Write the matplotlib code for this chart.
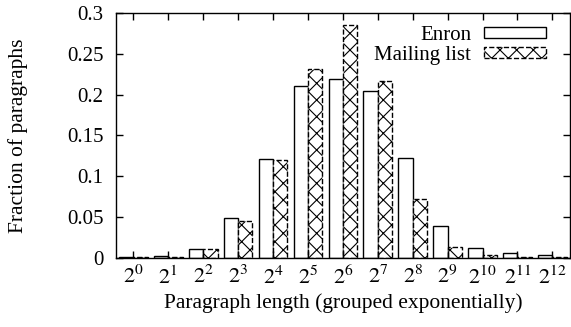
import numpy as np
import matplotlib
matplotlib.use("Agg")
import matplotlib.pyplot as plt

plt.rcParams['font.family'] = ['Liberation Serif', 'DejaVu Serif']
plt.rcParams['mathtext.fontset'] = 'stix'
plt.rcParams['hatch.linewidth'] = 0.8

exponents = list(range(13))
enron = [0.0005, 0.002, 0.011, 0.049, 0.121, 0.210, 0.219, 0.205, 0.122, 0.039, 0.012, 0.006, 0.003]
mailing = [0.0003, 0.001, 0.011, 0.045, 0.120, 0.232, 0.285, 0.217, 0.072, 0.013, 0.003, 0.001, 0.0005]
xlabels = ['$2^{%d}$' % e for e in exponents]

def draw():
  fig = plt.figure(figsize=(5.71, 3.27), dpi=100)
  ax = fig.add_axes([0.203, 0.212, 0.795, 0.748])
  ind = np.arange(len(exponents))
  width = 0.41
  ax.bar(ind - width/2, enron, width, label="Enron", facecolor='white',
         edgecolor='black', linewidth=1.0)
  ax.bar(ind + width/2, mailing, width, label="Mailing list", facecolor='white',
         edgecolor='black', linewidth=1.0, linestyle='--', hatch='xx')
  ax.set_xlim(-0.5, 12.5)
  ax.set_ylim(0, 0.3)
  ax.set_xticks(ind)
  ax.set_xticklabels(xlabels, fontsize=16)
  ax.set_yticks([0, 0.05, 0.1, 0.15, 0.2, 0.25, 0.3])
  ax.set_yticklabels(['0', '0.05', '0.1', '0.15', '0.2', '0.25', '0.3'], fontsize=15)
  ax.tick_params(direction='in', length=5, width=1, top=True, right=True)
  ax.tick_params(axis='y', pad=9)
  ax.tick_params(axis='x', pad=6)
  for s in ax.spines.values():
    s.set_linewidth(1.0)
  ax.set_ylabel("Fraction of paragraphs", fontsize=15.5, labelpad=28)
  ax.set_xlabel("Paragraph length (grouped exponentially)", fontsize=15.5, labelpad=3)
  ax.legend(loc='upper right', frameon=False, markerfirst=False, fontsize=15,
            handlelength=3.0, handleheight=0.45, labelspacing=0.05,
            borderaxespad=0.2, handletextpad=0.6, bbox_to_anchor=(0.975, 1.0))
  fig.savefig("out.png", dpi=100)

if __name__ == '__main__':
  draw()
